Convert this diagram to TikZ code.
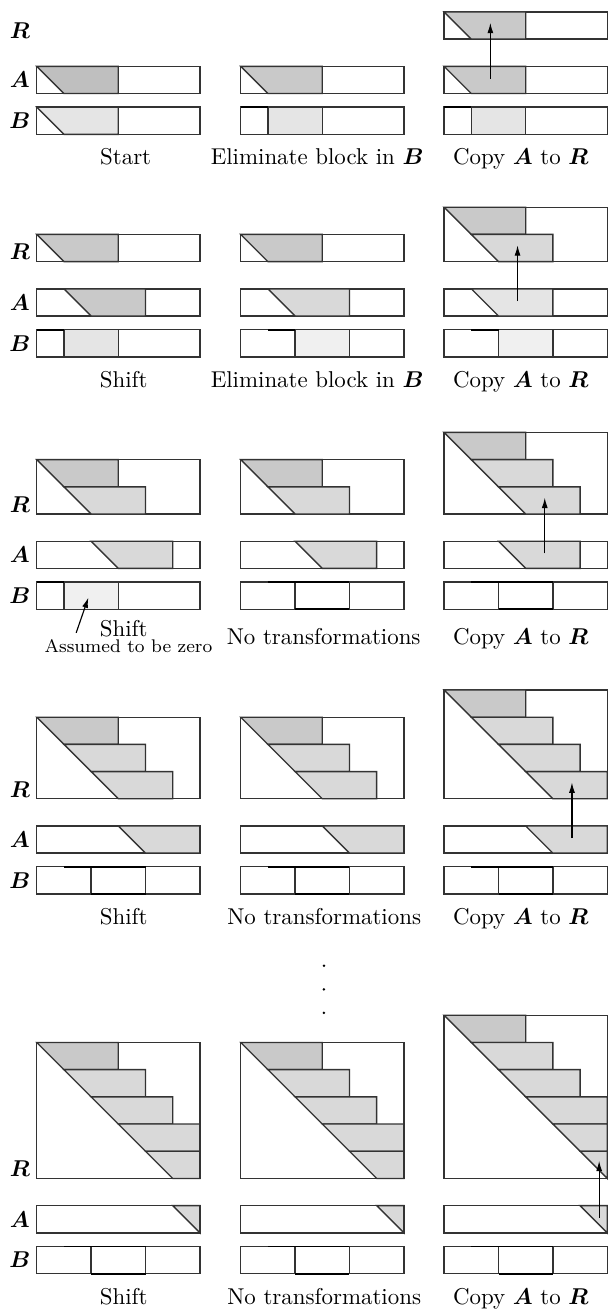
\documentclass[tikz,border=0pt]{standalone}
\usepackage{bm}
\usetikzlibrary{arrows.meta}

% fill shades of the blocks
\definecolor{blkdarker}{gray}{0.75}
\definecolor{blkdark}{gray}{0.79}
\definecolor{blkmid}{gray}{0.85}
\definecolor{bfill}{gray}{0.90}
\definecolor{bpale}{gray}{0.94}

\tikzset{
  outline/.style={draw=black!80, line width=0.6pt},
  seam/.style={draw=black, line width=0.8pt},
  lbl/.style={anchor=center},
  captext/.style={anchor=base},
  note/.style={anchor=base, font=\footnotesize},
  moveup/.style={-{Latex[length=4.5pt,width=2.6pt]}, line width=0.5pt},
}

% one trapezoidal block of a row: bottom y, left diagonal start a, right edge r, colour
\newcommand{\rowblock}[4]{%
  \filldraw[outline, fill=#4] (#2,#1+1) -- (#3,#1+1) -- (#3,#1) -- ({min(#2+1,#3)},#1) -- cycle;}

% R: staircase box with k rows, its bottom at y = 2
\newcommand{\rstack}[1]{%
  \draw[outline] (0,2) rectangle (6,2+#1);
  \foreach \i in {1,...,#1}{%
    \pgfmathsetmacro\yy{2+#1-\i}%
    \pgfmathsetmacro\aa{\i-1}%
    \pgfmathsetmacro\rr{min(\i+2,6)}%
    \ifnum\i=1 \def\cc{blkdark}\else\def\cc{blkmid}\fi
    \rowblock{\yy}{\aa}{\rr}{\cc}%
  }}

% A: bar with one block starting at a, ending at r
\newcommand{\abar}[3]{%
  \draw[outline] (0,0) rectangle (6,1);
  \rowblock{0}{#1}{#2}{#3}}

% B at the start: same shape as A
\newcommand{\bstart}{%
  \draw[outline] (0,-1.5) rectangle (6,-0.5);
  \rowblock{-1.5}{0}{3}{bfill}}

% B with a rectangular shaded block from l to r, darker top seam from s to t
\newcommand{\bgray}[5]{%
  \draw[outline] (0,-1.5) rectangle (6,-0.5);
  \filldraw[outline, fill=#3] (#1,-1.5) rectangle (#2,-0.5);
  \draw[seam] (#4,-0.5) -- (#5,-0.5);}

% B after the block is zeroed
\newcommand{\bzero}{%
  \draw[outline] (0,-1.5) rectangle (6,-0.5);
  \draw[outline] (2,-1.5) -- (2,-0.5) (4,-1.5) -- (4,-0.5);
  \draw[seam] (1,-0.5) -- (4,-0.5) (2,-1.5) -- (4,-1.5);}

\begin{document}
\begin{tikzpicture}[x=0.4175cm, y=0.4175cm]
\useasboundingbox (0,0) rectangle (22.32,48.13);

% ---------------- stage 1 ----------------
\begin{scope}[shift={(1.35,44.69)}]
  \abar{0}{3}{blkdarker}
  \bstart
  \node[lbl] (oneR) at (-0.62,2.3) {$\bm{R}$};
  \node[lbl] (oneA) at (-0.62,0.5) {$\bm{A}$};
  \node[lbl] (oneB) at (-0.62,-1) {$\bm{B}$};
  \node[captext] (capOneA) at (3.27,-2.6) {Start};
\end{scope}
\begin{scope}[shift={(8.85,44.69)}]
  \abar{0}{3}{blkdark}
  \bgray{1}{3}{bfill}{0}{1}
  \node[captext] (capOneB) at (2.81,-2.6) {Eliminate block in $\bm{B}$};
\end{scope}
\begin{scope}[shift={(16.33,44.69)}]
  \rstack{1}
  \abar{0}{3}{blkdark}
  \bgray{1}{3}{bfill}{0}{1}
  \coordinate (oneFrom) at (1.7,0.55);
  \coordinate (oneTo) at (1.7,2.6);
  \draw[moveup] (oneFrom) -- (oneTo);
  \node[captext] (capOneC) at (2.82,-2.6) {Copy $\bm{A}$ to $\bm{R}$};
\end{scope}

% ---------------- stage 2 ----------------
\begin{scope}[shift={(1.35,36.51)}]
  \rstack{1}
  \abar{1}{4}{blkdark}
  \bgray{1}{3}{bfill}{0}{1}
  \node[lbl] (twoR) at (-0.62,2.35) {$\bm{R}$};
  \node[lbl] (twoA) at (-0.62,0.5) {$\bm{A}$};
  \node[lbl] (twoB) at (-0.62,-1) {$\bm{B}$};
  \node[captext] (capTwoA) at (3.2,-2.62) {Shift};
\end{scope}
\begin{scope}[shift={(8.85,36.51)}]
  \rstack{1}
  \abar{1}{4}{blkmid}
  \bgray{2}{4}{bpale}{1}{2}
  \node[captext] (capTwoB) at (2.81,-2.62) {Eliminate block in $\bm{B}$};
\end{scope}
\begin{scope}[shift={(16.33,36.51)}]
  \rstack{2}
  \abar{1}{4}{bfill}
  \bgray{2}{4}{bpale}{1}{2}
  \coordinate (twoFrom) at (2.7,0.55);
  \coordinate (twoTo) at (2.7,2.6);
  \draw[moveup] (twoFrom) -- (twoTo);
  \node[captext] (capTwoC) at (2.82,-2.62) {Copy $\bm{A}$ to $\bm{R}$};
\end{scope}

% ---------------- stage 3 ----------------
\begin{scope}[shift={(1.35,27.23)}]
  \rstack{2}
  \abar{2}{5}{blkmid}
  \bgray{1}{3}{bpale}{0}{1}
  \node[lbl] (threeR) at (-0.62,2.35) {$\bm{R}$};
  \node[lbl] (threeA) at (-0.62,0.5) {$\bm{A}$};
  \node[lbl] (threeB) at (-0.62,-1) {$\bm{B}$};
  \node[captext] (capThreeA) at (3.2,-2.49) {Shift};
  \node[note] (zeroNote) at (3.37,-3.08) {Assumed to be zero};
  \coordinate (zeroFrom) at (1.45,-2.37);
  \coordinate (zeroTo) at (1.9,-1.07);
  \draw[moveup] (zeroFrom) -- (zeroTo);
\end{scope}
\begin{scope}[shift={(8.85,27.23)}]
  \rstack{2}
  \abar{2}{5}{blkmid}
  \bzero
  \node[captext] (capThreeB) at (3.05,-2.8) {No transformations};
\end{scope}
\begin{scope}[shift={(16.33,27.23)}]
  \rstack{3}
  \abar{2}{5}{blkmid}
  \bzero
  \coordinate (threeFrom) at (3.7,0.55);
  \coordinate (threeTo) at (3.7,2.6);
  \draw[moveup] (threeFrom) -- (threeTo);
  \node[captext] (capThreeC) at (2.82,-2.8) {Copy $\bm{A}$ to $\bm{R}$};
\end{scope}

% ---------------- stage 4 ----------------
\begin{scope}[shift={(1.35,16.76)}]
  \rstack{3}
  \abar{3}{6}{blkmid}
  \bzero
  \node[lbl] (fourR) at (-0.62,2.35) {$\bm{R}$};
  \node[lbl] (fourA) at (-0.62,0.5) {$\bm{A}$};
  \node[lbl] (fourB) at (-0.62,-1) {$\bm{B}$};
  \node[captext] (capFourA) at (3.2,-2.62) {Shift};
\end{scope}
\begin{scope}[shift={(8.85,16.76)}]
  \rstack{3}
  \abar{3}{6}{blkmid}
  \bzero
  \node[captext] (capFourB) at (3.07,-2.62) {No transformations};
\end{scope}
\begin{scope}[shift={(16.33,16.76)}]
  \rstack{4}
  \abar{3}{6}{blkmid}
  \bzero
  \coordinate (fourFrom) at (4.7,0.55);
  \coordinate (fourTo) at (4.7,2.6);
  \draw[moveup] (fourFrom) -- (fourTo);
  \node[captext] (capFourC) at (2.82,-2.62) {Copy $\bm{A}$ to $\bm{R}$};
\end{scope}

% vertical ellipsis between the stages
\fill (11.91,12.62) circle (0.6pt) (11.91,11.75) circle (0.6pt) (11.91,10.89) circle (0.6pt);

% ---------------- last stage ----------------
\begin{scope}[shift={(1.35,2.80)}]
  \rstack{5}
  \abar{5}{6}{blkmid}
  \bzero
  \node[lbl] (fiveR) at (-0.62,2.35) {$\bm{R}$};
  \node[lbl] (fiveA) at (-0.62,0.5) {$\bm{A}$};
  \node[lbl] (fiveB) at (-0.62,-1) {$\bm{B}$};
  \node[captext] (capFiveA) at (3.2,-2.62) {Shift};
\end{scope}
\begin{scope}[shift={(8.85,2.80)}]
  \rstack{5}
  \abar{5}{6}{blkmid}
  \bzero
  \node[captext] (capFiveB) at (3.07,-2.62) {No transformations};
\end{scope}
\begin{scope}[shift={(16.33,2.80)}]
  \rstack{6}
  \abar{5}{6}{blkmid}
  \bzero
  \coordinate (fiveFrom) at (5.7,0.55);
  \coordinate (fiveTo) at (5.7,2.65);
  \draw[moveup] (fiveFrom) -- (fiveTo);
  \node[captext] (capFiveC) at (2.82,-2.62) {Copy $\bm{A}$ to $\bm{R}$};
\end{scope}
\end{tikzpicture}
\end{document}
